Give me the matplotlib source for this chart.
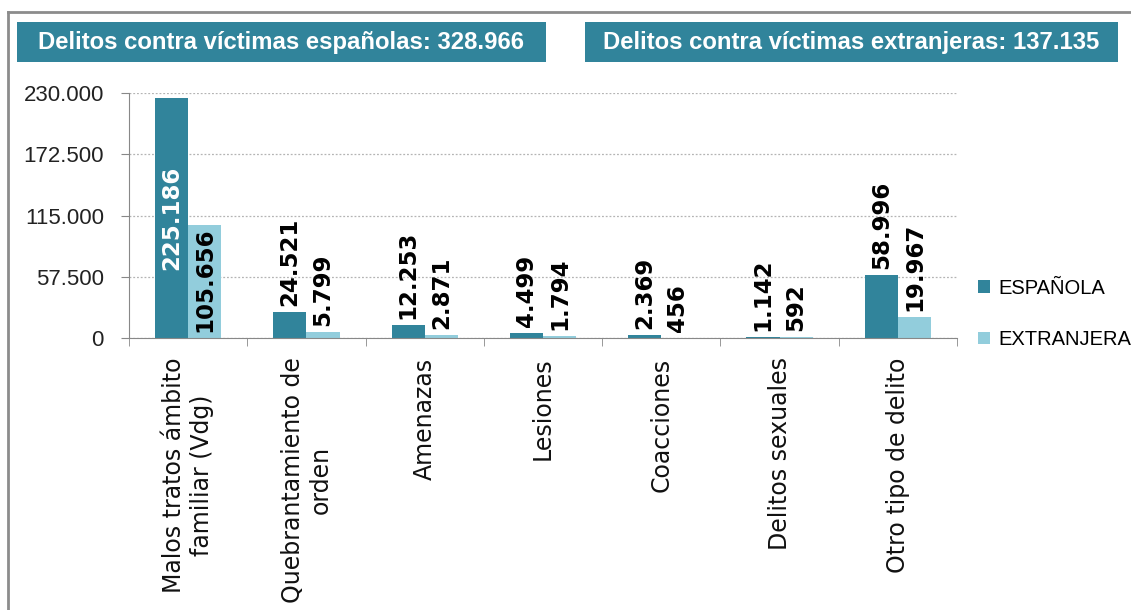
import numpy as np
from matplotlib import pyplot as plt
from matplotlib.patches import Rectangle
from matplotlib.lines import Line2D

categorias = ['Malos tratos ámbito\nfamiliar (Vdg)', 'Quebrantamiento de\norden', 'Amenazas',
              'Lesiones', 'Coacciones', 'Delitos sexuales', 'Otro tipo de delito']
espanola = [225186, 24521, 12253, 4499, 2369, 1142, 58996]
extranjera = [105656, 5799, 2871, 1794, 456, 592, 19967]
y_ticks = [0, 57500, 115000, 172500, 230000]
titulo_esp = 'Delitos contra víctimas españolas: 328.966'
titulo_ext = 'Delitos contra víctimas extranjeras: 137.135'

c_esp = '#31849B'
c_ext = '#92CDDC'
narrow = 'Liberation Sans'

def miles(v):
    return '{:,}'.format(v).replace(',', '.')

fig = plt.figure(figsize=(11.31, 6.10), dpi=100)
W, H = 1131, 610

# header boxes
for x0, x1, txt in [(17, 546, titulo_esp), (585, 1118, titulo_ext)]:
    fig.patches.append(Rectangle((x0 / W, 1 - 62 / H), (x1 - x0) / W, 40 / H,
                                 transform=fig.transFigure, facecolor=c_esp, edgecolor='none'))
    fig.text((x0 + x1) / 2 / W, 1 - 42 / H, txt, color='white', ha='center', va='center',
             fontsize=17.2, fontweight='bold', family=narrow)

# outer frame (top and left only visible)
fig.lines.append(Line2D([8 / W, 1], [1 - 12 / H, 1 - 12 / H], transform=fig.transFigure,
                        color='#8c8c8c', lw=2))
fig.lines.append(Line2D([8 / W, 8 / W], [0, 1 - 12 / H], transform=fig.transFigure,
                        color='#8c8c8c', lw=2))

ax = fig.add_axes([129 / W, 1 - 338 / H, (957 - 129) / W, (338 - 93) / H])
x = np.arange(len(categorias))
w = 0.28
b1 = ax.bar(x - w / 2, espanola, w, color=c_esp, label='ESPAÑOLA')
b2 = ax.bar(x + w / 2, extranjera, w, color=c_ext, label='EXTRANJERA')

ax.set_ylim(0, 230000)
ax.set_xlim(-0.5, len(categorias) - 0.5)
ax.set_yticks(y_ticks)
ax.set_yticklabels([miles(v) for v in y_ticks], family=narrow, fontsize=16,
                   color='#222222')
ax.tick_params(axis='y', direction='out', length=6, color='#888888', pad=12)
ax.set_xticks(x)
ax.set_xticklabels(categorias, rotation=90, fontsize=17, family='DejaVu Sans', va='top',
                   ha='center', multialignment='center', color='#111111')
ax.tick_params(axis='x', which='major', length=0, pad=14)
ax.set_xticks(np.arange(len(categorias) + 1) - 0.5, minor=True)
ax.tick_params(axis='x', which='minor', direction='out', length=6, color='#888888')

for s in ['top', 'right']:
    ax.spines[s].set_visible(False)
for s in ['left', 'bottom']:
    ax.spines[s].set_color('#888888')
ax.yaxis.grid(True, linestyle=(0, (1.5, 1.5)), color='#b4b4b4', lw=0.9)
ax.set_axisbelow(True)

# data labels
lab = dict(rotation=90, ha='center', fontsize=16.5, fontweight='bold')
for xi, v in zip(x, espanola):
    if v > 100000:
        ax.text(xi - w / 2, v / 2, miles(v), va='center', color='white', **lab)
    else:
        ax.annotate(miles(v), (xi - w / 2, v), xytext=(0, 6), textcoords='offset pixels',
                    va='bottom', **lab)
for xi, v in zip(x, extranjera):
    base = 0 if v > 100000 else v
    ax.annotate(miles(v), (xi + w / 2, base), xytext=(0, 6), textcoords='offset pixels',
                va='bottom', **lab)

fig.legend(handles=[b1, b2], loc='center left', bbox_to_anchor=(960 / W, 1 - 314 / H),
           frameon=False, handlelength=0.6, handleheight=0.6, handletextpad=0.4,
           labelspacing=1.6, prop={'family': narrow, 'size': 14.5})

fig.savefig('out.png', dpi=100)
